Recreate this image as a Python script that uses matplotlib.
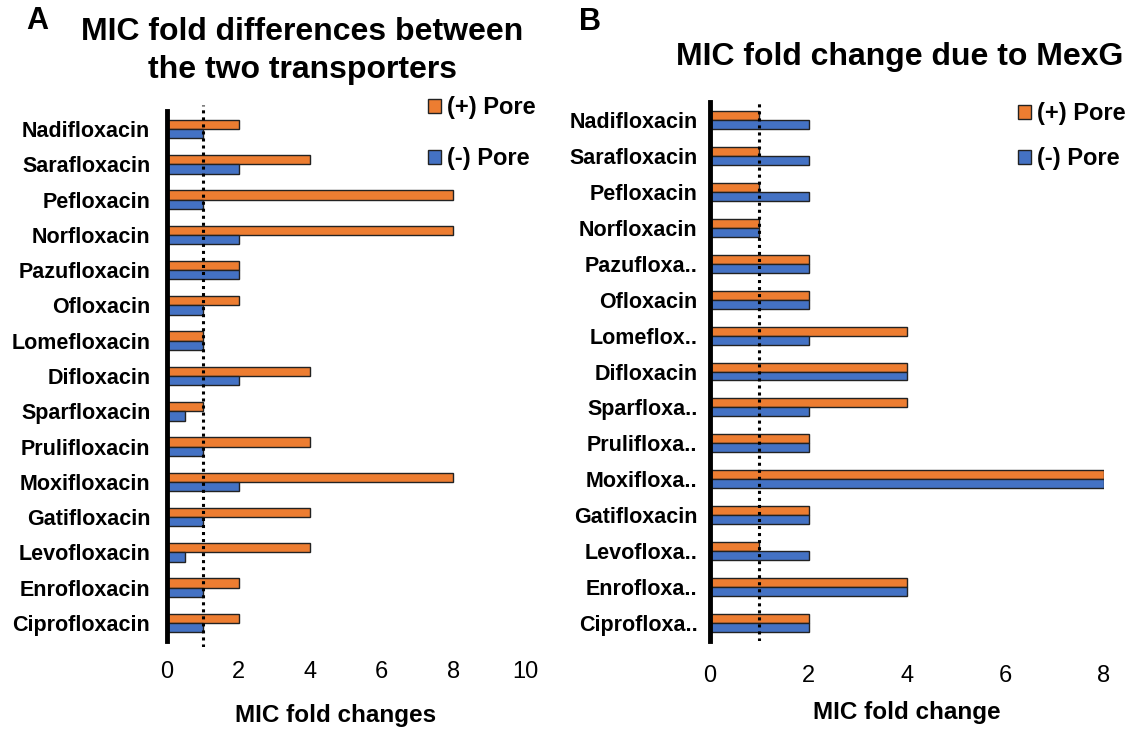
import matplotlib
matplotlib.use("Agg")
import matplotlib.pyplot as plt
from matplotlib.patches import Patch
import numpy as np

plt.rcParams['font.family'] = ['Liberation Sans', 'DejaVu Sans']

# ---- data ----
drugs_a = ["Nadifloxacin", "Sarafloxacin", "Pefloxacin", "Norfloxacin", "Pazufloxacin",
           "Ofloxacin", "Lomefloxacin", "Difloxacin", "Sparfloxacin", "Prulifloxacin",
           "Moxifloxacin", "Gatifloxacin", "Levofloxacin", "Enrofloxacin", "Ciprofloxacin"]
pore_plus_a = [2, 4, 8, 8, 2, 2, 1, 4, 1, 4, 8, 4, 4, 2, 2]
pore_minus_a = [1, 2, 1, 2, 2, 1, 1, 2, 0.5, 1, 2, 1, 0.5, 1, 1]

drugs_b = ["Nadifloxacin", "Sarafloxacin", "Pefloxacin", "Norfloxacin", "Pazufloxa..",
           "Ofloxacin", "Lomeflox..", "Difloxacin", "Sparfloxa..", "Prulifloxa..",
           "Moxifloxa..", "Gatifloxacin", "Levofloxa..", "Enrofloxa..", "Ciprofloxa.."]
pore_plus_b = [1, 1, 1, 1, 2, 2, 4, 4, 4, 2, 8, 2, 1, 4, 2]
pore_minus_b = [2, 2, 2, 1, 2, 2, 2, 4, 2, 2, 8, 2, 2, 4, 2]

xticks_a = [0, 2, 4, 6, 8, 10]
xticks_b = [0, 2, 4, 6, 8]
series_labels = ["(+) Pore", "(-) Pore"]

ORANGE = "#ED7D31"
BLUE = "#4472C4"
W, H = 1142, 729

fig = plt.figure(figsize=(W / 100, H / 100), dpi=100)


def px_rect(x0, y0, x1, y1):
    return [x0 / W, 1 - y1 / H, (x1 - x0) / W, (y1 - y0) / H]


def panel(ax, drugs, plus, minus, xticks, xlim, ylim, bar_h, spine_bounds, tick_pad, xlabel,
          ylabpad, xlabpad):
    y = np.arange(len(drugs))
    ax.barh(y - bar_h / 2, plus, height=bar_h, color=ORANGE, edgecolor="#222222", linewidth=1.0, zorder=2)
    ax.barh(y + bar_h / 2, minus, height=bar_h, color=BLUE, edgecolor="#222222", linewidth=1.0, zorder=2)
    ax.axvline(1, color="black", linestyle=(0, (1, 1.3)), linewidth=2.2, zorder=3)
    ax.set_xlim(*xlim)
    ax.set_ylim(*ylim)
    ax.set_yticks(y)
    ax.set_yticklabels(drugs, fontsize=15.5, fontweight="bold")
    ax.set_xticks(xticks)
    ax.set_xticklabels([str(t) for t in xticks], fontsize=17)
    ax.tick_params(axis="both", length=0)
    ax.tick_params(axis="x", pad=tick_pad)
    ax.tick_params(axis="y", pad=ylabpad)
    for s in ["top", "right", "bottom"]:
        ax.spines[s].set_visible(False)
    ax.spines["left"].set_linewidth(3.5)
    ax.spines["left"].set_color("black")
    ax.spines["left"].set_bounds(*spine_bounds)
    ax.spines["left"].set_zorder(4)
    ax.set_xlabel(xlabel, fontsize=17.5, fontweight="bold", labelpad=xlabpad)
    ax.patch.set_alpha(0)
    return ax


axA = fig.add_axes(px_rect(167, 105, 525, 647))
panel(axA, drugs_a, pore_plus_a, pore_minus_a, xticks_a, (0, 10), (14.68, -0.68), 0.265,
      (-0.5, 14.5), 10, "MIC fold changes", 12, 14)
axA.xaxis.set_label_coords(0.47, -0.105)

axB = fig.add_axes(px_rect(710, 102, 1104, 641))
panel(axB, drugs_b, pore_plus_b, pore_minus_b, xticks_b, (0, 8), (14.5, -0.5), 0.25,
      (-0.5, 14.5), 17, "MIC fold change", 9, 10)

handles = [Patch(facecolor=ORANGE, edgecolor="#222222", linewidth=1.0),
           Patch(facecolor=BLUE, edgecolor="#222222", linewidth=1.0)]
legend_kw = dict(frameon=False, prop={"size": 17, "weight": "bold"}, handlelength=0.55,
                 handleheight=0.55, handletextpad=0.25, borderaxespad=0, borderpad=0)
fig.legend(handles, series_labels, loc="upper left", labelspacing=1.2,
           bbox_to_anchor=(428 / W, 1 - 96 / H), **legend_kw)
fig.legend(handles, series_labels, loc="upper left", labelspacing=0.95,
           bbox_to_anchor=(1018 / W, 1 - 102 / H), **legend_kw)

# titles and panel letters
fig.text(37 / W, 1 - 21 / H, "A", fontsize=22, fontweight="bold", ha="center", va="center")
fig.text(302 / W, 1 - 51 / H, "MIC fold differences between\nthe two transporters",
         fontsize=23, fontweight="bold", ha="center", va="center", linespacing=1.38)
fig.text(590 / W, 1 - 22 / H, "B", fontsize=22, fontweight="bold", ha="center", va="center")
fig.text(900 / W, 1 - 57 / H, "MIC fold change due to MexG",
         fontsize=23, fontweight="bold", ha="center", va="center")

fig.savefig("out.png", dpi=100)
